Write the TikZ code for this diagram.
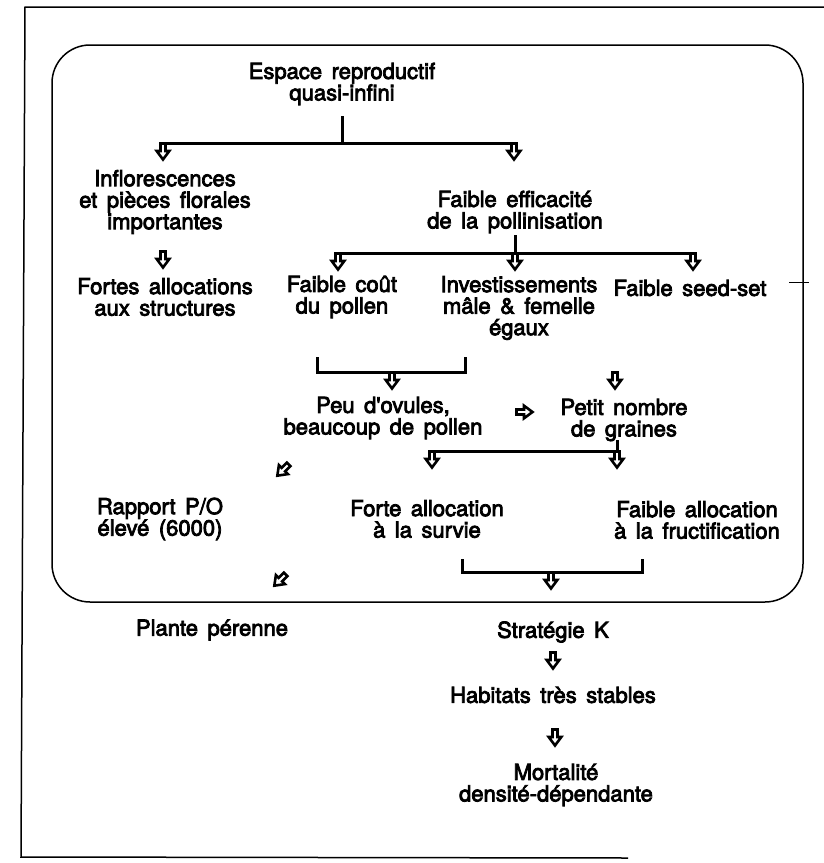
\documentclass[tikz,border=0pt]{standalone}
\usepackage{fontspec}
\newfontfamily\dfont{TeX Gyre Heros}[FakeBold=3.5]
\newcommand\widespaces{\spaceskip=9.5pt plus 1pt\relax}
\tikzset{
  barrow/.pic={\draw[line width=2.6pt, fill=white, line join=miter]
    (-2.5,0.5) -- (2.5,0.5) -- (2.5,8) -- (6.3,8) -- (0,16.5) -- (-6.3,8) -- (-2.5,8) -- cycle;},
  txt/.style={font=\dfont\fontsize{22}{21.5}\selectfont, execute at begin node=\widespaces, align=center, inner sep=0pt},
  conn/.style={line width=3pt, line cap=butt, line join=miter},
  frame/.style={line width=1.5pt},
}
\begin{document}
\begin{tikzpicture}[x=1pt,y=-1pt]
\useasboundingbox (0,0) rectangle (824,863);
% frames
\draw[frame] (824,7) -- (25,7) -- (21,857) -- (628,858);
\draw[frame, rounded corners=38pt] (52,45) rectangle (803,602);
\draw[line width=0.7pt] (789,282) -- (809,282);
% texts
\node[txt] (esp) at (342,84) {Espace reproductif\\quasi-infini};
\node[txt] (infl) at (165,202) {Inflorescences\\et pièces florales\\importantes};
\node[txt] (faib) at (515,212) {Faible efficacité\\de la pollinisation};
\node[txt] (fort) at (165,297) {Fortes allocations\\aux structures};
\node[txt] (cout) at (342,297) {Faible coût\\du pollen};
\node[txt] (inv) at (519,308) {Investissements\\mâle \& femelle\\égaux};
\node[txt] (seed) at (690,288) {Faible seed-set};
\node[txt] (peu) at (383,418) {Peu d'ovules,\\beaucoup de pollen};
\node[txt] (pet) at (624,420) {Petit nombre\\de graines};
\node[txt] (rap) at (160,519) {Rapport P/O\\élevé (6000)};
\node[txt] (fal) at (427,519) {Forte allocation\\à la survie};
\node[txt] (fbl) at (697,520) {Faible allocation\\à la fructification};
\node[txt] (pla) at (212,630) {Plante pérenne};
\node[txt] (strat) at (553,632) {Stratégie K};
\node[txt] (hab) at (553,695) {Habitats très stables};
\node[txt] (mort) at (556,785) {Mortalité\\densité-dépendante};
% junction coordinates
\coordinate (e1) at (342,116);
\coordinate (e2) at (342,143);
\coordinate (a1) at (163,143);
\coordinate (a2) at (514,143);
\coordinate (f1) at (515,235);
\coordinate (f2) at (515,253);
\coordinate (c1) at (338,253);
\coordinate (c2) at (515,253);
\coordinate (c3) at (693,253);
\coordinate (k1) at (317,357);
\coordinate (k2) at (465,357);
\coordinate (k3) at (392,372);
\coordinate (g1) at (617,440);
\coordinate (g2) at (617,451);
\coordinate (g3) at (432,451);
\coordinate (m1) at (462,559);
\coordinate (m2) at (642,559);
\coordinate (m3) at (551,572);
% connectors
\draw[conn] (e1) -- (e2);
\draw[conn] ([xshift=-3pt]a1) -- ([xshift=3pt]a2);
\draw[conn] (f1) -- (f2);
\draw[conn] ([xshift=-3pt]c1) -- ([xshift=3pt]c3);
\draw[conn] (k1) |- (k3) -| (k2);
\draw[conn] (g1) -- (g2) -- ([xshift=-3pt]g3);
\draw[conn] (m1) |- (m3) -| (m2);
% block arrows
\pic at (a1) {barrow};
\pic at (a2) {barrow};
\pic at (163,251) {barrow};
\pic at (c1) {barrow};
\pic at (c2) {barrow};
\pic at (c3) {barrow};
\pic at (k3) {barrow};
\pic at (615,372) {barrow};
\pic[rotate=90] at (516,412) {barrow};
\pic at (g3) {barrow};
\pic at (g2) {barrow};
\pic[rotate=-45] at (289,464) {barrow};
\pic at (m3) {barrow};
\pic[rotate=-45] at (286,574) {barrow};
\pic at (553,652) {barrow};
\pic at (555,729) {barrow};
\end{tikzpicture}
\end{document}
